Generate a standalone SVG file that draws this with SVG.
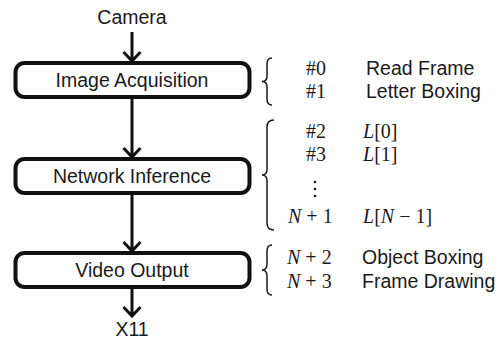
<svg xmlns="http://www.w3.org/2000/svg" width="503" height="343" viewBox="0 0 503 343">
<style>
.box{fill:#fff;stroke:#111;stroke-width:4}
.lbl{font-family:"Liberation Sans",Arial,sans-serif;font-size:19.5px;fill:#1a1a1a;text-anchor:middle}
.txt{font-family:"Liberation Sans",Arial,sans-serif;font-size:19.5px;fill:#1a1a1a}
.m{font-family:"Liberation Serif","DejaVu Serif",serif;font-size:20px;fill:#1a1a1a}
.mc{font-family:"Liberation Serif","DejaVu Serif",serif;font-size:20px;fill:#1a1a1a;text-anchor:middle}
.it{font-style:italic}
.line{fill:none;stroke:#111;stroke-width:3}
.brace{fill:none;stroke:#1a1a1a;stroke-width:1.5}
</style>
<g id="connectors">
<path class="line" d="M132 32V61M123.5 52L132 61L140.5 52"/>
<path class="line" d="M132 97V157M123.5 148L132 157L140.5 148"/>
<path class="line" d="M132 193V251M123.5 242L132 251L140.5 242"/>
<path class="line" d="M132 287V316M123.5 307L132 316L140.5 307"/>
</g>
<g id="camera"><text class="lbl" x="132" y="24">Camera</text></g>
<g id="image-acquisition">
<rect class="box" x="15.5" y="63" width="234" height="34" rx="9"/>
<text class="lbl" x="132" y="87">Image Acquisition</text>
</g>
<g id="network-inference">
<rect class="box" x="15.5" y="159" width="234" height="34" rx="9"/>
<text class="lbl" x="132" y="183">Network Inference</text>
</g>
<g id="video-output">
<rect class="box" x="15.5" y="253" width="234" height="34" rx="9"/>
<text class="lbl" x="132" y="277">Video Output</text>
</g>
<g id="x11"><text class="lbl" x="132" y="336">X11</text></g>
<g id="group1">
<path class="brace" d="M272 58Q267 58 267 64V76Q267 81.5 262 81.5Q267 81.5 267 87V99Q267 105 272 105"/>
<text class="mc" x="316" y="75">#0</text>
<text class="mc" x="316" y="98">#1</text>
<text class="txt" x="366" y="75">Read Frame</text>
<text class="txt" x="366" y="98">Letter Boxing</text>
</g>
<g id="group2">
<path class="brace" d="M274 120Q267 120 267 127V169Q267 175 262 175Q267 175 267 181V223Q267 230 274 230"/>
<text class="mc" x="316" y="138">#2</text>
<text class="mc" x="316" y="161">#3</text>
<circle cx="315" cy="182" r="1.3" fill="#1a1a1a"/>
<circle cx="315" cy="189" r="1.3" fill="#1a1a1a"/>
<circle cx="315" cy="196" r="1.3" fill="#1a1a1a"/>
<text class="m" x="288" y="223"><tspan class="it">N</tspan><tspan dx="5">+</tspan><tspan dx="5">1</tspan></text>
<text class="m" x="363" y="138"><tspan class="it">L</tspan>[0]</text>
<text class="m" x="363" y="161"><tspan class="it">L</tspan>[1]</text>
<text class="m" x="363" y="223"><tspan class="it">L</tspan>[<tspan class="it">N</tspan><tspan dx="5">−</tspan><tspan dx="5">1]</tspan></text>
</g>
<g id="group3">
<path class="brace" d="M272 245Q267 245 267 251V264Q267 270 262 270Q267 270 267 276V289Q267 295 272 295"/>
<text class="m" x="287" y="264"><tspan class="it">N</tspan><tspan dx="5">+</tspan><tspan dx="5">2</tspan></text>
<text class="m" x="287" y="288"><tspan class="it">N</tspan><tspan dx="5">+</tspan><tspan dx="5">3</tspan></text>
<text class="txt" x="362" y="264">Object Boxing</text>
<text class="txt" x="362" y="288">Frame Drawing</text>
</g>
</svg>
